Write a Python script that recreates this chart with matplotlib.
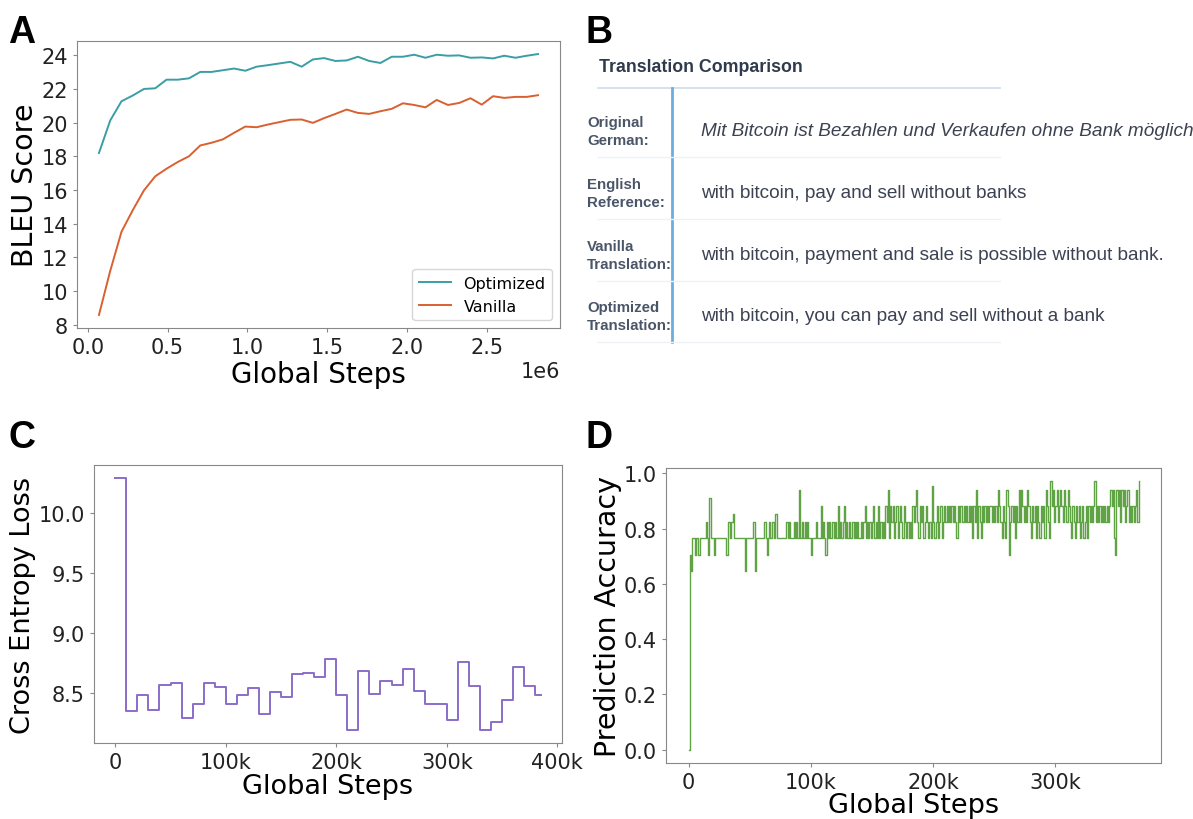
import matplotlib.pyplot as plt
import numpy as np
from matplotlib.ticker import FuncFormatter

# ---- panel A: BLEU vs global steps
bleu_steps = np.arange(1, 41) * 70500
bleu_optimized = [18.19, 20.12, 21.26, 21.6, 21.99, 22.03, 22.54, 22.54, 22.62, 23.0,
                  23.0, 23.1, 23.2, 23.07, 23.31, 23.4, 23.5, 23.6, 23.31, 23.74,
                  23.82, 23.65, 23.68, 23.9, 23.65, 23.53, 23.9, 23.9, 24.02, 23.84,
                  24.02, 23.96, 23.98, 23.84, 23.86, 23.8, 23.96, 23.84, 23.96, 24.06]
bleu_vanilla = [8.59, 11.2, 13.52, 14.8, 15.98, 16.81, 17.26, 17.66, 18.0, 18.64,
                18.8, 19.0, 19.39, 19.76, 19.72, 19.88, 20.02, 20.16, 20.18, 19.98,
                20.26, 20.51, 20.77, 20.57, 20.51, 20.67, 20.81, 21.14, 21.04, 20.9,
                21.34, 21.04, 21.16, 21.44, 21.06, 21.56, 21.46, 21.52, 21.52, 21.62]

# ---- panel B: translation table
row_labels = ["Original\nGerman:", "English\nReference:", "Vanilla\nTranslation:",
              "Optimized\nTranslation:"]
row_texts = ["Mit Bitcoin ist Bezahlen und Verkaufen ohne Bank möglich",
             "with bitcoin, pay and sell without banks",
             "with bitcoin, payment and sale is possible without bank.",
             "with bitcoin, you can pay and sell without a bank"]

# ---- panel C: cross entropy loss (every 10k steps)
loss_steps = np.append(np.arange(0, 390000, 10000), 385000)
loss = [10.29, 8.35, 8.48, 8.36, 8.57, 8.58, 8.29, 8.41, 8.58, 8.55,
        8.41, 8.48, 8.54, 8.33, 8.51, 8.47, 8.66, 8.67, 8.63, 8.78,
        8.48, 8.19, 8.68, 8.49, 8.60, 8.57, 8.70, 8.52, 8.41, 8.41,
        8.28, 8.76, 8.56, 8.19, 8.26, 8.44, 8.72, 8.56, 8.48]
loss = loss + [loss[-1]]

# ---- panel D: prediction accuracy (every 1k steps)
acc = [0.0, 0.706, 0.647, 0.765, 0.765, 0.706, 0.765, 0.765, 0.706, 0.765,
       0.765, 0.765, 0.765, 0.765, 0.824, 0.765, 0.706, 0.912, 0.765, 0.765,
       0.765, 0.706, 0.765, 0.765, 0.765, 0.765, 0.765, 0.765, 0.765, 0.765,
       0.765, 0.706, 0.824, 0.824, 0.765, 0.824, 0.853, 0.765, 0.765, 0.765,
       0.765, 0.765, 0.765, 0.765, 0.765, 0.765, 0.647, 0.765, 0.765, 0.765,
       0.765, 0.765, 0.765, 0.824, 0.647, 0.765, 0.765, 0.765, 0.765, 0.765,
       0.765, 0.765, 0.824, 0.765, 0.706, 0.765, 0.824, 0.765, 0.824, 0.824,
       0.765, 0.853, 0.765, 0.765, 0.765, 0.765, 0.765, 0.765, 0.765, 0.765,
       0.824, 0.765, 0.824, 0.765, 0.765, 0.765, 0.824, 0.765, 0.824, 0.765,
       0.941, 0.765, 0.765, 0.824, 0.765, 0.824, 0.765, 0.824, 0.765, 0.765,
       0.706, 0.765, 0.765, 0.765, 0.824, 0.765, 0.765, 0.765, 0.882, 0.765,
       0.824, 0.765, 0.706, 0.824, 0.765, 0.824, 0.765, 0.824, 0.824, 0.765,
       0.824, 0.765, 0.882, 0.765, 0.824, 0.765, 0.824, 0.882, 0.765, 0.824,
       0.765, 0.824, 0.765, 0.765, 0.824, 0.765, 0.824, 0.765, 0.824, 0.765,
       0.765, 0.824, 0.765, 0.824, 0.882, 0.765, 0.824, 0.765, 0.824, 0.765,
       0.824, 0.882, 0.765, 0.824, 0.765, 0.882, 0.765, 0.824, 0.765, 0.824,
       0.765, 0.882, 0.824, 0.941, 0.765, 0.882, 0.824, 0.882, 0.765, 0.824,
       0.882, 0.765, 0.824, 0.882, 0.824, 0.765, 0.882, 0.824, 0.765, 0.824,
       0.765, 0.824, 0.765, 0.882, 0.824, 0.882, 0.941, 0.824, 0.765, 0.882,
       0.824, 0.882, 0.765, 0.824, 0.882, 0.824, 0.765, 0.824, 0.765, 0.955,
       0.824, 0.765, 0.824, 0.882, 0.765, 0.824, 0.882, 0.765, 0.824, 0.882,
       0.824, 0.882, 0.824, 0.882, 0.824, 0.882, 0.824, 0.882, 0.824, 0.765,
       0.882, 0.824, 0.882, 0.882, 0.824, 0.882, 0.824, 0.882, 0.824, 0.882,
       0.824, 0.882, 0.765, 0.882, 0.824, 0.941, 0.765, 0.882, 0.824, 0.765,
       0.882, 0.824, 0.882, 0.824, 0.882, 0.824, 0.882, 0.882, 0.824, 0.882,
       0.824, 0.882, 0.824, 0.941, 0.882, 0.824, 0.765, 0.882, 0.824, 0.765,
       0.941, 0.882, 0.706, 0.824, 0.882, 0.824, 0.882, 0.765, 0.882, 0.824,
       0.941, 0.824, 0.941, 0.882, 0.824, 0.882, 0.824, 0.941, 0.882, 0.824,
       0.765, 0.882, 0.824, 0.882, 0.765, 0.882, 0.824, 0.765, 0.882, 0.824,
       0.882, 0.765, 0.941, 0.882, 0.824, 0.765, 0.971, 0.882, 0.941, 0.824,
       0.882, 0.941, 0.824, 0.882, 0.941, 0.882, 0.824, 0.941, 0.882, 0.824,
       0.941, 0.882, 0.824, 0.765, 0.882, 0.824, 0.765, 0.882, 0.824, 0.882,
       0.765, 0.824, 0.882, 0.765, 0.824, 0.882, 0.765, 0.882, 0.824, 0.882,
       0.824, 0.882, 0.971, 0.824, 0.882, 0.824, 0.882, 0.824, 0.882, 0.824,
       0.882, 0.824, 0.882, 0.824, 0.882, 0.941, 0.882, 0.941, 0.765, 0.706,
       0.941, 0.882, 0.941, 0.824, 0.941, 0.882, 0.941, 0.824, 0.882, 0.941,
       0.824, 0.882, 0.824, 0.882, 0.824, 0.882, 0.941, 0.824, 0.971]
acc_steps = np.arange(len(acc)) * 1000


def k_fmt(x, pos):
    return "0" if x == 0 else f"{int(round(x / 1000))}k"


def style_axes(ax):
    for s in ax.spines.values():
        s.set_color("#888888")
    ax.tick_params(colors="#888888", labelcolor="#222222", labelsize=15, length=3)


fig = plt.figure(figsize=(11.93, 8.2), dpi=100)
W, H = 1193, 820

# table panel drawn in pixel space
axb = fig.add_axes([0, 0, 1, 1])
axb.set_xlim(0, W)
axb.set_ylim(H, 0)
axb.axis("off")
tfont = "Liberation Sans"
axb.text(599, 67, "Translation Comparison", fontsize=12.8, fontweight="bold",
         color="#2f3b4c", va="center", family=tfont)
axb.plot([598, 1000], [89, 89], color="#cfdcea", lw=1.2)
axb.plot([672, 672], [89, 343], color="#6aaee0", lw=2)
sep_y = [158, 220, 282, 343]
label_y = [132, 194, 256, 317]
for i in range(4):
    axb.plot([598, 1000], [sep_y[i], sep_y[i]], color="#eef1f5", lw=1)
    axb.text(587, label_y[i], row_labels[i], fontsize=10.8, fontweight="bold",
             color="#4a5568", va="center", family=tfont, linespacing=1.45)
    axb.text(701, label_y[i], row_texts[i], fontsize=13.7, color="#3b4252",
             va="center", family=tfont, style="italic" if i == 0 else "normal")

# panel A
ax1 = fig.add_axes([77 / W, 1 - 329 / H, 483 / W, 287 / H])
ax1.plot(bleu_steps, bleu_optimized, color="#3a9ea5", lw=1.4, label="Optimized")
ax1.plot(bleu_steps, bleu_vanilla, color="#d9602f", lw=1.4, label="Vanilla")
ax1.set_xlabel("Global Steps", fontsize=20, labelpad=2)
ax1.set_ylabel("BLEU Score", fontsize=20.5, labelpad=2)
ax1.set_yticks([8, 10, 12, 14, 16, 18, 20, 22, 24])
style_axes(ax1)
ax1.xaxis.get_offset_text().set_fontsize(15)
ax1.legend(loc="lower right", fontsize=11.5)

# panel C
ax3 = fig.add_axes([94 / W, 1 - 744 / H, 468 / W, 278 / H])
ax3.plot(loss_steps, loss, drawstyle="steps-post", color="#8a6cc9", lw=1.4)
ax3.set_xlabel("Global Steps", fontsize=19.5, labelpad=1)
ax3.set_ylabel("Cross Entropy Loss", fontsize=19.5, labelpad=2)
ax3.set_xticks([0, 100000, 200000, 300000, 400000])
ax3.set_yticks([8.5, 9.0, 9.5, 10.0])
ax3.xaxis.set_major_formatter(FuncFormatter(k_fmt))
style_axes(ax3)

# panel D
ax4 = fig.add_axes([666 / W, 1 - 764 / H, 495 / W, 295 / H])
ax4.plot(acc_steps, acc, drawstyle="steps-post", color="#5fa344", lw=1)
ax4.set_xlabel("Global Steps", fontsize=19.5, labelpad=0)
ax4.set_ylabel("Prediction Accuracy", fontsize=20.5, labelpad=1)
ax4.set_xticks([0, 100000, 200000, 300000])
ax4.xaxis.set_major_formatter(FuncFormatter(k_fmt))
style_axes(ax4)

for lab, x, y in [("A", 8, 15), ("B", 586, 15), ("C", 8, 420), ("D", 586, 420)]:
    fig.text(x / W, 1 - y / H, lab, fontsize=27, fontweight="bold", va="top",
             family="Liberation Sans")

plt.savefig("out.png", dpi=100)
